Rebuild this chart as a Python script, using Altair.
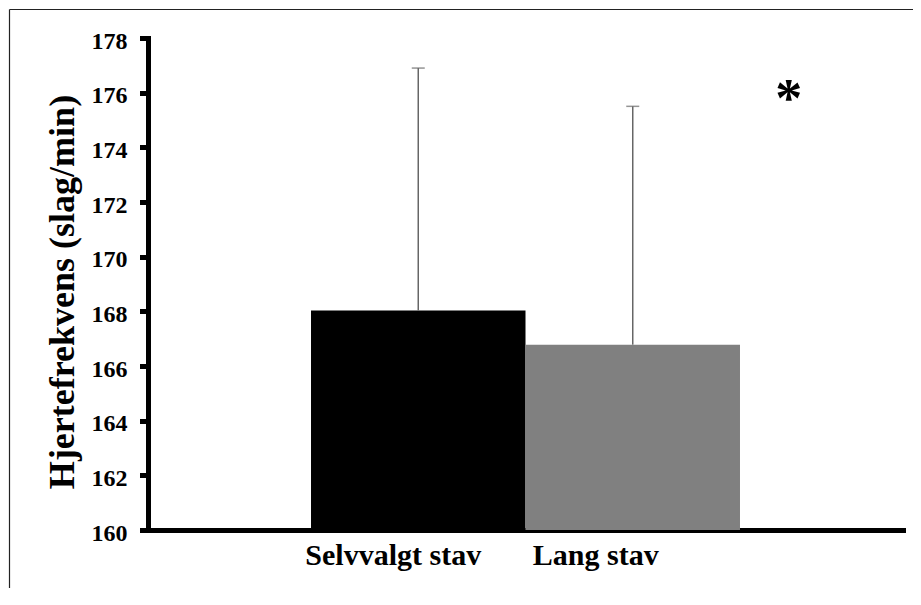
import altair as alt
import pandas as pd

categories = ["Selvvalgt stav", "Lang stav"]
means = [168.03, 166.78]
upper = [176.9, 175.5]
bar_colors = ["#000000", "#808080"]
y_ticks = [160, 162, 164, 166, 168, 170, 172, 174, 176, 178]
star_cat = ["Lang stav"]
star_val = [175.15]

df = pd.DataFrame({"cat": categories, "mean": means, "upper": upper})
star_df = pd.DataFrame({"cat": star_cat, "v": star_val, "t": ["*"]})

FONT = "Liberation Serif"

x_scale = alt.Scale(domain=categories, paddingInner=0, paddingOuter=0.76)
y_scale = alt.Scale(domain=[160, 178], nice=False, zero=False)

x_axis = alt.Axis(
    title=None,
    labelAngle=0,
    labelOffset={"condition": {"test": "datum.label == 'Lang stav'", "value": -37}, "value": -25},
)

y_axis = alt.Axis(
    values=y_ticks,
    title="Hjertefrekvens (slag/min)",
)

X = lambda: alt.X("cat:N", sort=categories, scale=x_scale, axis=x_axis)

bars = alt.Chart(df).mark_bar().encode(
    x=X(),
    y=alt.Y("mean:Q", scale=y_scale, axis=y_axis),
    y2=alt.datum(160),
    color=alt.Color("cat:N", scale=alt.Scale(domain=categories, range=bar_colors), legend=None),
)

err = alt.Chart(df).mark_rule(color="#666666", strokeWidth=1.5).encode(
    x=X(),
    y=alt.Y("mean:Q", scale=y_scale, axis=y_axis),
    y2="upper:Q",
)

caps = alt.Chart(df).mark_tick(color="#666666", thickness=1.5, size=13, orient="horizontal").encode(
    x=X(),
    y=alt.Y("upper:Q", scale=y_scale, axis=y_axis),
)

star = alt.Chart(star_df).mark_text(
    font=FONT, fontSize=54, fontWeight="bold", color="black", dx=156, baseline="alphabetic", align="center"
).encode(
    x=X(),
    y=alt.Y("v:Q", scale=y_scale, axis=y_axis),
    text="t:N",
)

frame_src = alt.Data(values=[{}])
frame_left = alt.Chart(frame_src).mark_rule(color="#222222", strokeWidth=1.2).encode(
    x=alt.value(-138.5), y=alt.value(-28.5), y2=alt.value(3000)
)
frame_top = alt.Chart(frame_src).mark_rule(color="#222222", strokeWidth=1.2).encode(
    x=alt.value(-138.5), x2=alt.value(3000), y=alt.value(-28.5)
)

chart = alt.layer(bars, err, caps, star, frame_left, frame_top).properties(
    width=755,
    height=492,
    autosize=alt.AutoSizeParams(type="none"),
    padding={"left": 140, "top": 30, "right": 10, "bottom": 58},
).configure(
    background="white",
    view=alt.ViewConfig(stroke="transparent", strokeWidth=0),
    axisX=alt.AxisConfig(
        ticks=False,
        tickSize=0,
        domainColor="black",
        domainWidth=5,
        domainCap="square",
        labelFont=FONT,
        labelFontSize=30,
        labelFontWeight="bold",
        labelColor="black",
        labelPadding=10,
        labelBaseline="top",
        zindex=1,
    ),
    axisY=alt.AxisConfig(
        titleFont=FONT,
        titleFontSize=36,
        titleFontWeight="bold",
        titleColor="black",
        titleAngle=270,
        titleAlign="center",
        titleBaseline="alphabetic",
        titleX=-75,
        titleY=253.5,
        labelFont=FONT,
        labelFontSize=24,
        labelFontWeight="bold",
        labelColor="black",
        labelPadding=15,
        labelOffset=3,
        domainColor="black",
        domainWidth=5,
        domainCap="square",
        ticks=True,
        tickColor="black",
        tickWidth=5,
        tickSize=6,
        tickCap="square",
        grid=False,
        zindex=1,
    ),
)

chart.save("out.html", embed_options={"renderer": "svg", "actions": False})
